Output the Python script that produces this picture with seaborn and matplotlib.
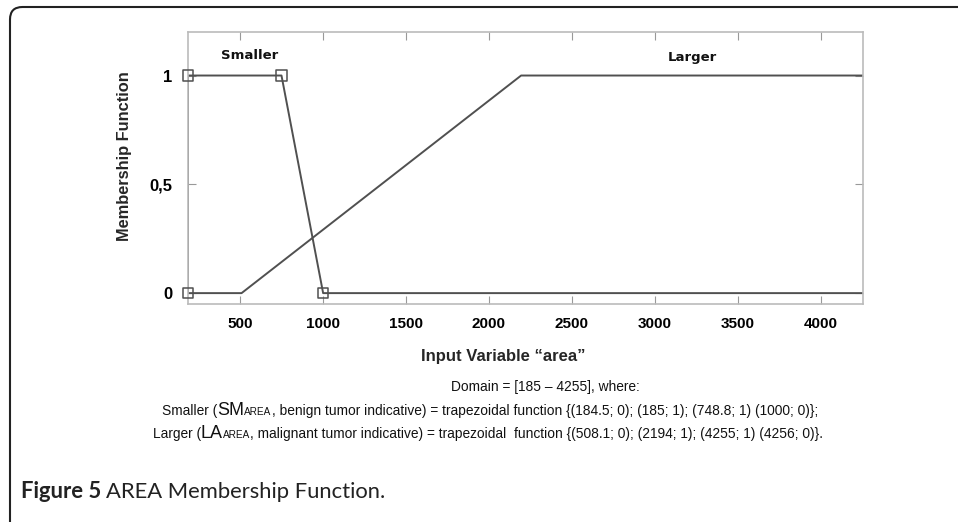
import matplotlib
matplotlib.use("Agg")
import matplotlib.pyplot as plt
import seaborn as sns
import pandas as pd
from matplotlib.patches import FancyBboxPatch

# ---- data ----
smaller_x = [184.5, 185, 748.8, 1000, 4256]
smaller_y = [0, 1, 1, 0, 0]
smaller_mark_x = [184.5, 185, 748.8, 1000]
smaller_mark_y = [0, 1, 1, 0]
larger_x = [184.5, 508.1, 2194, 4255, 4256]
larger_y = [0, 0, 1, 1, 1]
x_ticks = [500, 1000, 1500, 2000, 2500, 3000, 3500, 4000]
y_ticks = [0, 0.5, 1]
y_tick_labels = ["0", "0,5", "1"]

sns.set_theme(style="white")
plt.rcParams['font.family'] = ['Liberation Sans', 'DejaVu Sans']

W, H = 958, 522
fig = plt.figure(figsize=(W / 100, H / 100), dpi=100)
ax = fig.add_axes([188 / W, 1 - 304 / H, (863 - 188) / W, (304 - 32) / H])

line_col = "#505050"
df_s = pd.DataFrame({"x": smaller_x, "y": smaller_y})
df_l = pd.DataFrame({"x": larger_x, "y": larger_y})
df_m = pd.DataFrame({"x": smaller_mark_x, "y": smaller_mark_y})
sns.lineplot(data=df_l, x="x", y="y", sort=False, color=line_col, lw=1.4, ax=ax)
sns.lineplot(data=df_s, x="x", y="y", sort=False, color=line_col, lw=1.4, ax=ax)
sns.scatterplot(data=df_m, x="x", y="y", marker="s", s=55, facecolor="none",
                edgecolor=line_col, linewidth=1.1, ax=ax, clip_on=False, zorder=5)

ax.set_xlim(185, 4256)
ax.set_ylim(-0.05, 1.2)
ax.set_xticks(x_ticks)
ax.set_xticklabels([str(v) for v in x_ticks], fontsize=11, fontweight="bold")
ax.set_yticks(y_ticks)
ax.set_yticklabels(y_tick_labels, fontsize=12, fontweight="bold")
ax.tick_params(axis="both", direction="in", length=6, width=0.8, color="#999999",
               top=True, right=True, bottom=True, left=True, labelcolor="black")
ax.tick_params(axis="x", pad=9)
ax.tick_params(axis="y", pad=11)
for sp in ax.spines.values():
    sp.set_color("#bbbbbb")
    sp.set_linewidth(1.2)

ax.set_xlabel("Input Variable \u201carea\u201d", fontsize=12, fontweight="bold")
ax.xaxis.set_label_coords((503 - 188) / 675, -(357 - 304) / 272, transform=ax.transAxes)
ax.xaxis.label.set_verticalalignment("center")
ax.set_ylabel("Membership Function", fontsize=11.8, fontweight="bold")
ax.yaxis.set_label_coords(-(188 - 125) / 675, (304 - 156) / 272, transform=ax.transAxes)
ax.yaxis.label.set_verticalalignment("center")

ax.text(559, 1.09, "Smaller", fontsize=9.5, fontweight="bold", ha="center", va="center",
        family="DejaVu Sans", color="#111111")
ax.text(3227, 1.083, "Larger", fontsize=9.5, fontweight="bold", ha="center", va="center",
        family="DejaVu Sans", color="#111111")

# ---- text lines below ----
narrow = ['Liberation Sans Narrow', 'Liberation Sans']
fig.canvas.draw()
renderer = fig.canvas.get_renderer()


def chain(pieces, cx, ybase_px):
    texts = []
    x = 0
    for s, size in pieces:
        t = fig.text(x / W, 1 - ybase_px / H, s, fontsize=size, ha="left", va="baseline",
                     family=narrow, color="#111111")
        bb = t.get_window_extent(renderer)
        x = bb.x1
        texts.append(t)
    total = x
    shift = cx - total / 2
    for t in texts:
        px, py = t.get_position()
        t.set_position((px + shift / W, py))


base = 9.9
chain([("Domain = [185 \u2013 4255], where:", base)], 545, 391)
chain([("Smaller (", base), ("SM", 13), ("AREA", 7.2),
       (", benign tumor indicative) = trapezoidal function {(184.5; 0); (185; 1); (748.8; 1) (1000; 0)};", base)],
      490, 415)
chain([("Larger (", base), ("LA", 13), ("AREA", 7.2),
       (", malignant tumor indicative) = trapezoidal  function {(508.1; 0); (2194; 1); (4255; 1) (4256; 0)}.", base)],
      488, 438)

# caption
t1 = fig.text(21 / W, 1 - 498 / H, "Figure 5", fontsize=15.8, fontweight="bold",
              family=["Lato", "DejaVu Sans"], color="#222222", va="baseline")
bb = t1.get_window_extent(renderer)
fig.text((bb.x1 + 5) / W, 1 - 498 / H, "AREA Membership Function.", fontsize=15.8,
         family=["Lato", "DejaVu Sans"], color="#222222", va="baseline")

# rounded border
border = FancyBboxPatch((10 / W, 1 - 560 / H), 1.2, (560 - 7) / H,
                        boxstyle="round,pad=0,rounding_size=0.013",
                        transform=fig.transFigure, fill=False, edgecolor="#222222",
                        linewidth=1.5, mutation_aspect=W / H)
fig.patches.append(border)

fig.savefig("out.png", dpi=100)
